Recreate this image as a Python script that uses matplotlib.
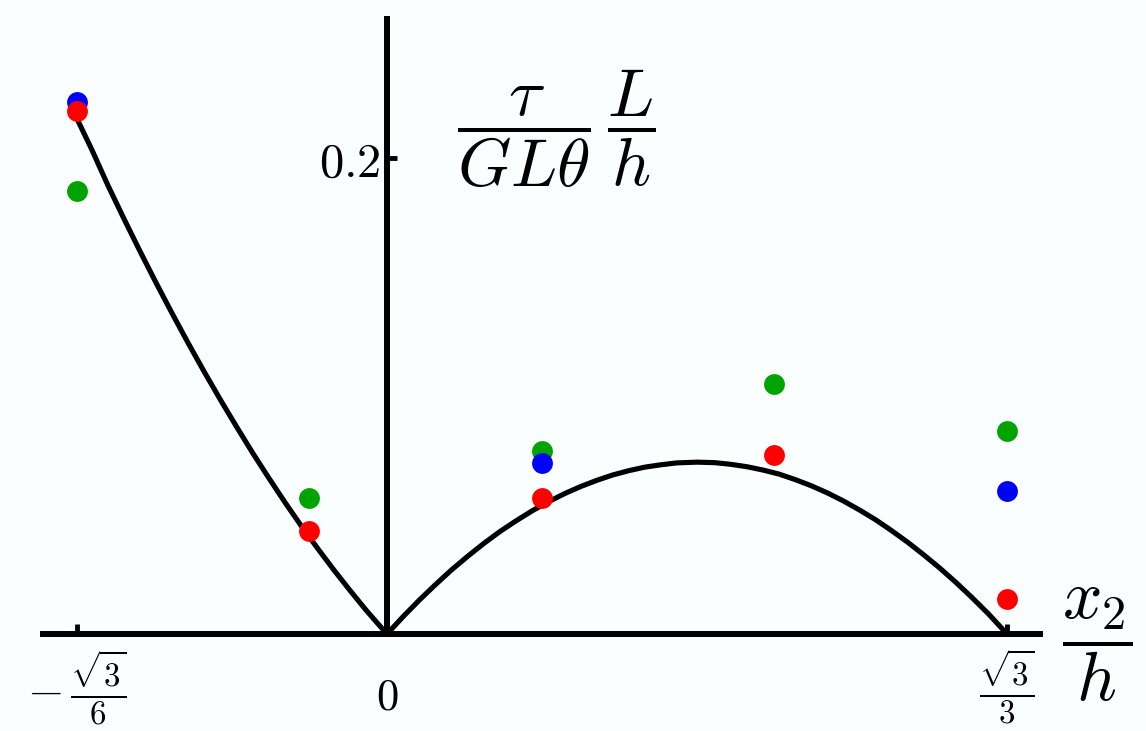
import numpy as np
import matplotlib
matplotlib.use("Agg")
import matplotlib.pyplot as plt

plt.rcParams["mathtext.fontset"] = "cm"

S6 = np.sqrt(3) / 6   # -sqrt(3)/6 is the left edge
S3 = np.sqrt(3) / 3   # sqrt(3)/3 is the right edge

# analytical stress along the axis, sampled
curve_left_x = [-0.2887, -0.275, -0.26, -0.245, -0.23, -0.215, -0.20, -0.185, -0.17, -0.155,
                -0.14, -0.125, -0.11, -0.095, -0.08, -0.065, -0.05, -0.035, -0.02, -0.01, 0.0]
curve_left_y = [0.2165, 0.2036, 0.1886, 0.1745, 0.1608, 0.1475, 0.1346, 0.1221, 0.1100, 0.0983,
                0.0870, 0.0760, 0.0655, 0.0553, 0.0455, 0.0362, 0.0272, 0.0186, 0.0103, 0.0051, 0.0]
curve_right_x = [0.0, 0.015, 0.03, 0.045, 0.06, 0.075, 0.09, 0.105, 0.12, 0.135, 0.15, 0.165,
                 0.18, 0.195, 0.21, 0.225, 0.24, 0.255, 0.27, 0.2887, 0.305, 0.32, 0.335,
                 0.35, 0.365, 0.38, 0.395, 0.41, 0.425, 0.44, 0.455, 0.47, 0.485, 0.50,
                 0.515, 0.53, 0.545, 0.56, 0.5774]
curve_right_y = [0.0, 0.0073, 0.0142, 0.0207, 0.0269, 0.0326, 0.0380, 0.0430, 0.0475, 0.0517,
                 0.0555, 0.0589, 0.0619, 0.0645, 0.0668, 0.0686, 0.0701, 0.0711, 0.0719, 0.0722,
                 0.0720, 0.0713, 0.0703, 0.0689, 0.0672, 0.0649, 0.0623, 0.0593, 0.0559, 0.0521,
                 0.0480, 0.0434, 0.0385, 0.0332, 0.0276, 0.0216, 0.0152, 0.0085, 0.0]

# numerical results
green_x = [-0.2887, -0.0722, 0.1443, 0.3608, 0.5774]
green_y = [0.1861, 0.0571, 0.0769, 0.1050, 0.0853]
blue_x = [-0.2887, 0.1443, 0.5774]
blue_y = [0.2235, 0.0718, 0.0601]
red_x = [-0.2887, -0.0722, 0.1443, 0.3608, 0.5774]
red_y = [0.2197, 0.0433, 0.0571, 0.0752, 0.0147]

BG = "#fbfefe"

fig = plt.figure(figsize=(11.46, 7.31), dpi=100)
fig.patch.set_facecolor(BG)
ax = fig.add_axes([0, 0, 1, 1])
ax.set_facecolor(BG)
ax.set_xlim(-0.3604, 0.7068)
ax.set_ylim(-0.04076, 0.26639)

for side in ("top", "right"):
    ax.spines[side].set_visible(False)
ax.spines["left"].set_position(("data", 0))
ax.spines["bottom"].set_position(("data", 0))
ax.spines["left"].set_bounds(0, 0.2597)
ax.spines["bottom"].set_bounds(-0.323, 0.611)
for side in ("left", "bottom"):
    ax.spines[side].set_linewidth(4.3)
    ax.spines[side].set_capstyle("butt")

ax.set_xticks([-S6, 0, S3])
ax.tick_params(axis="x", direction="in", length=7, width=3.5, labelbottom=False)
ax.set_yticks([0.2])
ax.set_yticklabels(["$0.2$"], fontsize=35)
ax.tick_params(axis="y", direction="in", length=7, width=3.5, pad=5)

ax.text(-S6, -0.0227, r"$-\,\frac{\sqrt{3}}{6}$", fontsize=34, ha="center", va="center")
ax.text(0, -0.0265, r"$0$", fontsize=32, ha="center", va="center")
ax.text(S3, -0.0220, r"$\frac{\sqrt{3}}{3}$", fontsize=34, ha="center", va="center")

ax.plot(curve_left_x, curve_left_y, color="black", lw=3.7, solid_capstyle="butt", zorder=3)
ax.plot(curve_right_x, curve_right_y, color="black", lw=3.7, solid_capstyle="butt", zorder=3)

ms = 15
ax.plot(green_x, green_y, "o", color="#00a300", ms=ms, mec="none", zorder=4)
ax.plot(blue_x, blue_y, "o", color="#0000ff", ms=ms, mec="none", zorder=5)
ax.plot(red_x, red_y, "o", color="#ff0000", ms=ms, mec="none", zorder=6)

fig.text(0.485, 0.8235, r"$\dfrac{\tau}{GL\theta}\,\dfrac{L}{h}$", fontsize=49, ha="center", va="center")
fig.text(0.957, 0.118, r"$\dfrac{x_2}{h}$", fontsize=50, ha="center", va="center")

fig.savefig("out.png", dpi=100, facecolor=fig.get_facecolor())
